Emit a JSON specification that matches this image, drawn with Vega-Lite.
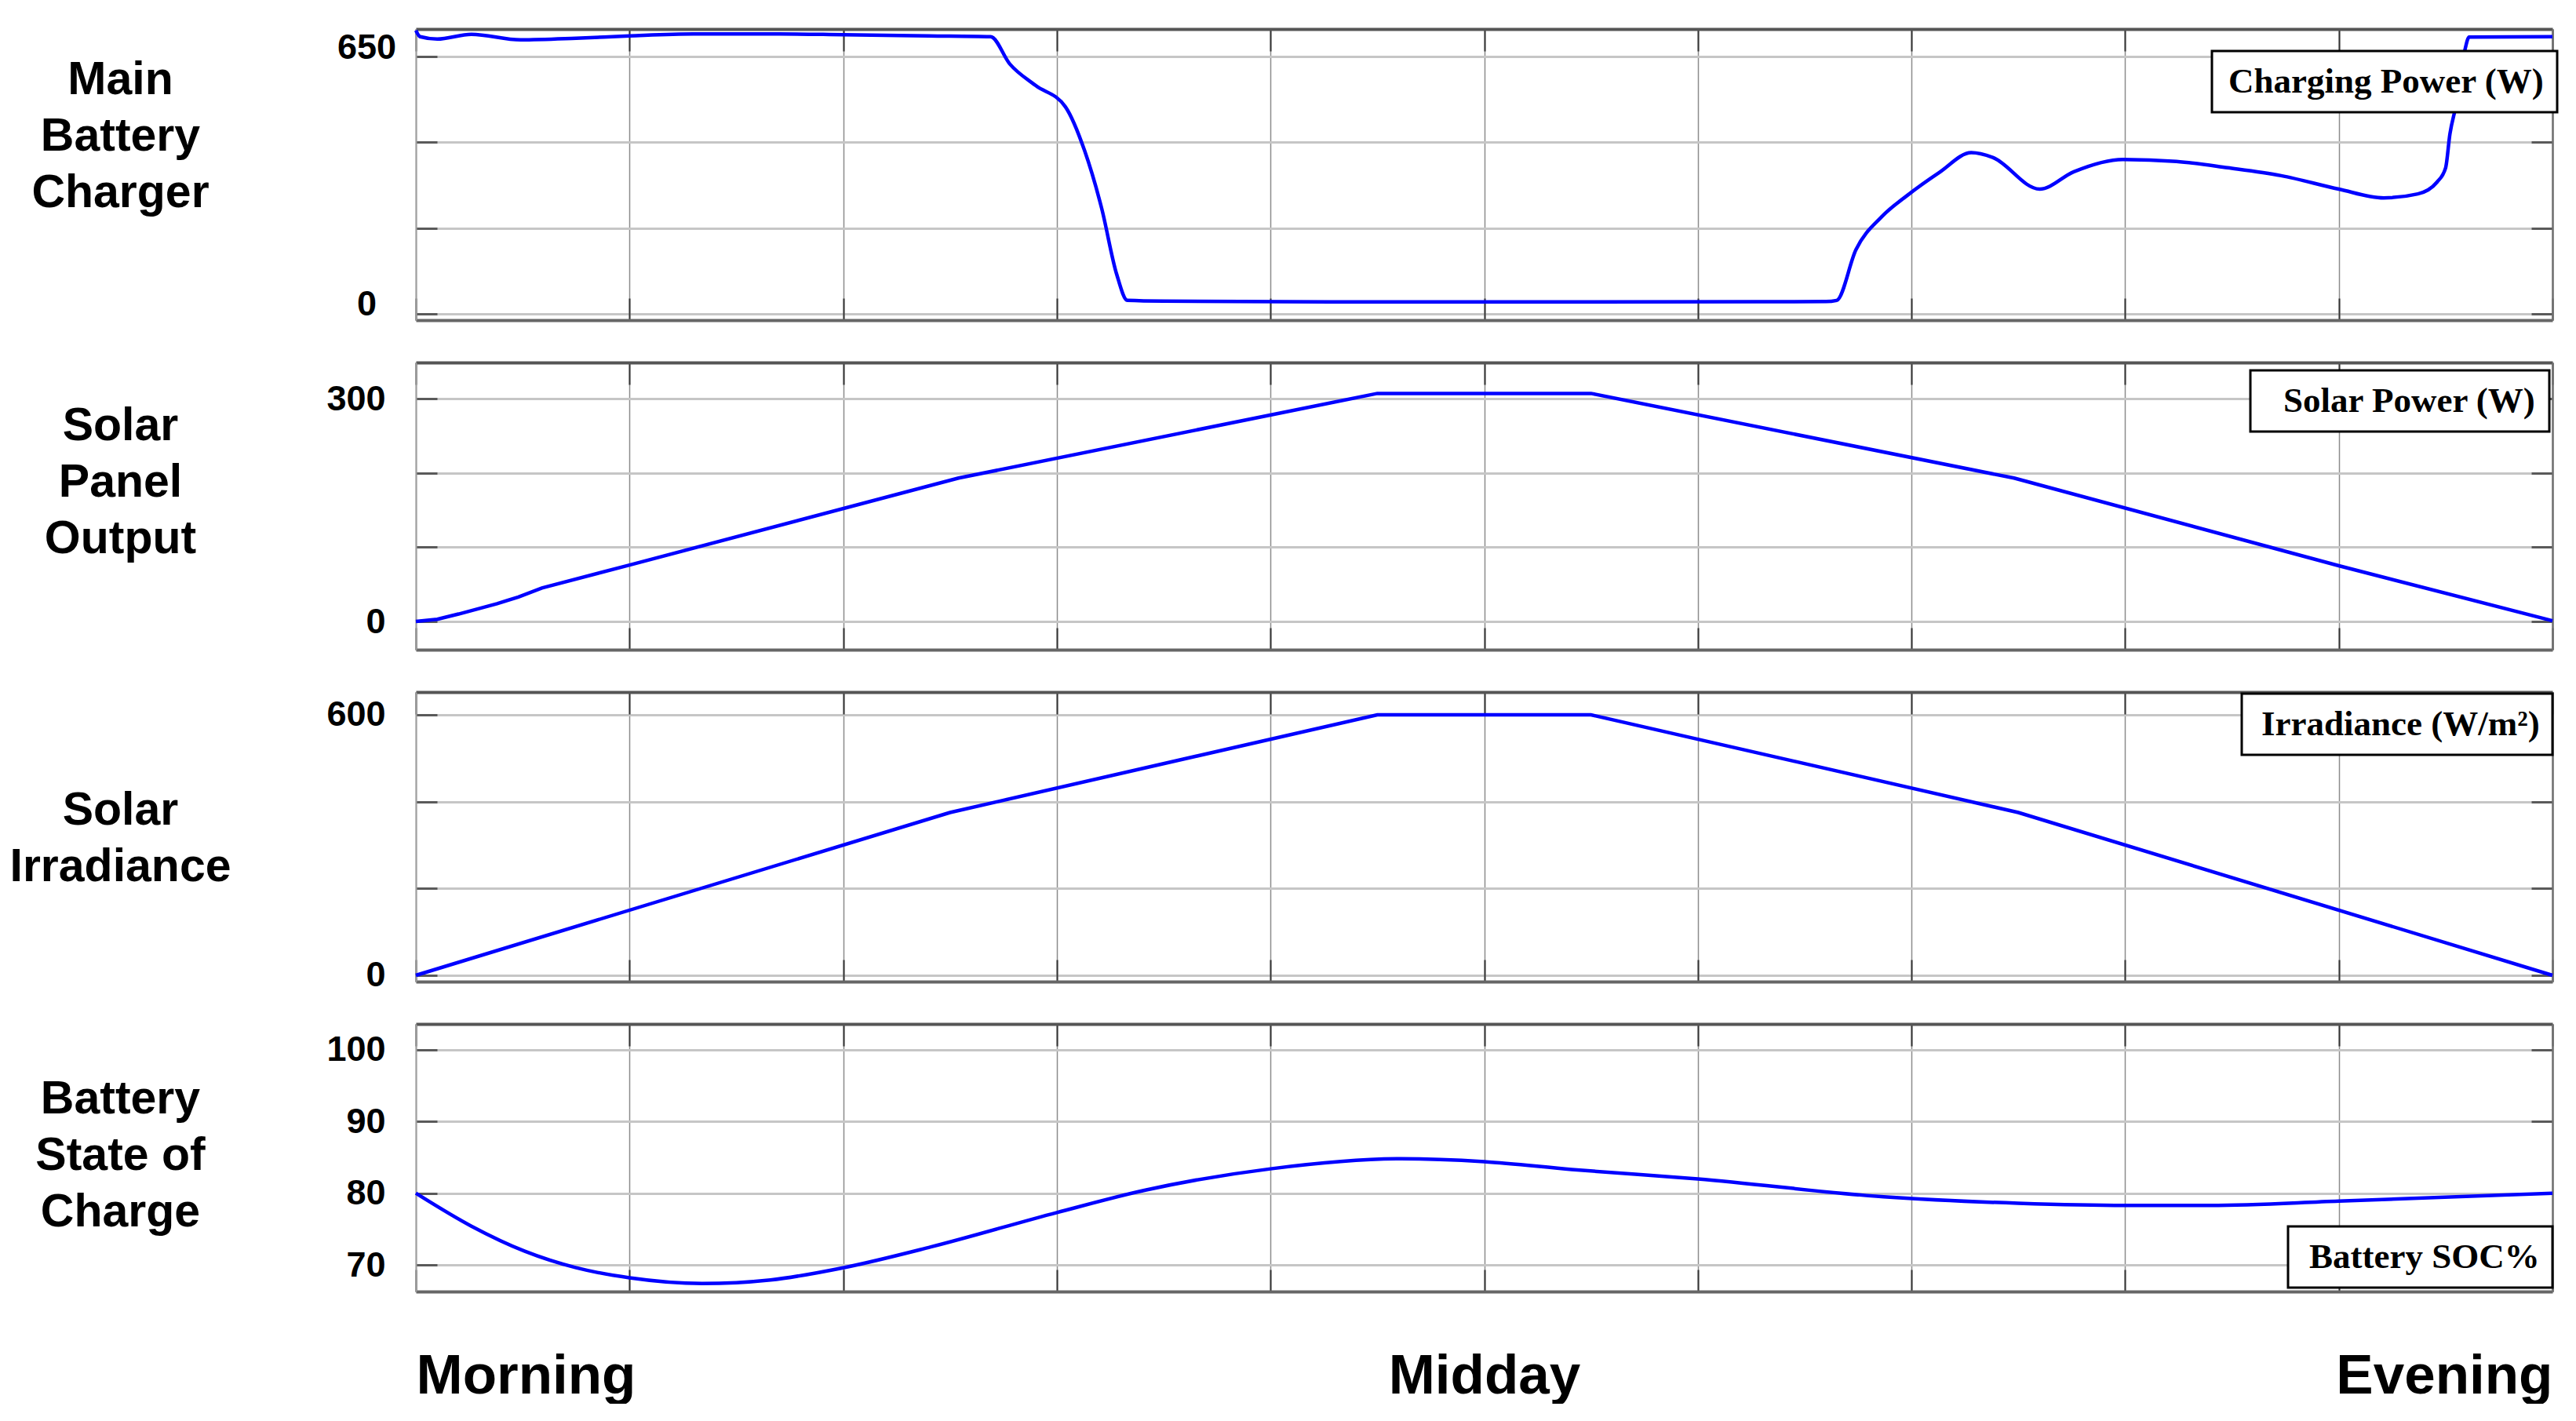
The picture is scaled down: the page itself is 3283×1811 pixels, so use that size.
{
  "$schema": "https://vega.github.io/schema/vega-lite/v6.json",
  "background": "white",
  "padding": {"left": 11, "top": 29, "right": 0, "bottom": 0},
  "autosize": {"type": "pad"},
  "config": {
    "font": "Liberation Sans",
    "view": {"stroke": null},
    "axis": {"labelFont": "Liberation Sans", "labelFontWeight": "bold", "labelColor": "black", "labelOverlap": false, "labelLimit": 0, "titleColor": "black"},
    "legend": {"strokeWidth": 3, "title": " ", "titleOrient": "right", "titleFontSize": 1, "symbolSize": 0, "symbolOpacity": 0, "symbolStrokeWidth": 0, "labelOffset": -44, "labelFont": "Liberation Serif", "labelFontWeight": "bold", "labelFontSize": 45, "labelColor": "black", "labelLimit": 0, "padding": 16, "strokeColor": "black", "fillColor": "white"}
  },
  "datasets": {
    "charger": [
      {"t": 0, "value": 716}, {"t": 0.02, "value": 700}, {"t": 0.1, "value": 694}, {"t": 0.26, "value": 706},
      {"t": 0.49, "value": 692}, {"t": 0.75, "value": 696}, {"t": 1.0, "value": 702}, {"t": 1.3, "value": 707},
      {"t": 1.7, "value": 707}, {"t": 2.0, "value": 705}, {"t": 2.4, "value": 702}, {"t": 2.69, "value": 700},
      {"t": 2.78, "value": 631}, {"t": 2.9, "value": 577}, {"t": 3.04, "value": 523}, {"t": 3.13, "value": 412},
      {"t": 3.21, "value": 266}, {"t": 3.28, "value": 100}, {"t": 3.33, "value": 34}, {"t": 3.5, "value": 32},
      {"t": 4.5, "value": 30}, {"t": 5.5, "value": 30}, {"t": 6.6, "value": 31}, {"t": 6.65, "value": 34},
      {"t": 6.74, "value": 162}, {"t": 6.86, "value": 245}, {"t": 6.98, "value": 299}, {"t": 7.13, "value": 357},
      {"t": 7.28, "value": 407}, {"t": 7.38, "value": 395}, {"t": 7.6, "value": 315}, {"t": 7.76, "value": 359},
      {"t": 7.99, "value": 390}, {"t": 8.24, "value": 385}, {"t": 8.48, "value": 369}, {"t": 8.73, "value": 349},
      {"t": 9.0, "value": 315}, {"t": 9.21, "value": 293}, {"t": 9.37, "value": 303}, {"t": 9.46, "value": 333},
      {"t": 9.5, "value": 369}, {"t": 9.52, "value": 454}, {"t": 9.55, "value": 530}, {"t": 9.59, "value": 666},
      {"t": 9.61, "value": 699}, {"t": 10, "value": 700}
    ],
    "solar": [
      {"t": 0, "value": 0}, {"t": 0.1, "value": 3}, {"t": 0.2, "value": 10}, {"t": 0.38, "value": 24},
      {"t": 0.48, "value": 33}, {"t": 0.59, "value": 45}, {"t": 1.0, "value": 76}, {"t": 2.54, "value": 193},
      {"t": 4.5, "value": 307}, {"t": 5.5, "value": 307}, {"t": 7.48, "value": 193}, {"t": 9.0, "value": 75},
      {"t": 10, "value": 1}
    ],
    "irradiance": [
      {"t": 0, "value": 0}, {"t": 2.5, "value": 375}, {"t": 4.5, "value": 600}, {"t": 5.5, "value": 600},
      {"t": 7.5, "value": 375}, {"t": 10, "value": 0}
    ],
    "soc": [
      {"t": 0, "value": 80}, {"t": 0.26, "value": 75.4}, {"t": 0.51, "value": 71.9}, {"t": 0.75, "value": 69.6},
      {"t": 1.0, "value": 68.2}, {"t": 1.34, "value": 67.4}, {"t": 1.66, "value": 67.9}, {"t": 2.0, "value": 69.6},
      {"t": 2.41, "value": 72.5}, {"t": 3.0, "value": 77.3}, {"t": 3.41, "value": 80.4}, {"t": 4.0, "value": 83.4},
      {"t": 4.61, "value": 84.8}, {"t": 5.0, "value": 84.4}, {"t": 5.41, "value": 83.3}, {"t": 6.0, "value": 82.0},
      {"t": 6.87, "value": 79.5}, {"t": 7.5, "value": 78.6}, {"t": 8.0, "value": 78.3}, {"t": 8.4, "value": 78.3},
      {"t": 9.0, "value": 78.9}, {"t": 10, "value": 80}
    ]
  },
  "spacing": 54,
  "bounds": "flush",
  "resolve": {"scale": {"color": "independent"}, "legend": {"color": "independent"}},
  "vconcat": [
    {
      "width": 2723, "height": 371,
      "data": {"name": "charger"},
      "resolve": {"axis": {"x": "independent", "y": "independent"}},
      "layer": [
        {
          "mark": {"type": "line", "strokeWidth": 4.5, "interpolate": "monotone"},
          "encoding": {
            "x": {"field": "t", "type": "quantitative", "scale": {"domain": [0, 10], "nice": false, "zero": false},
              "axis": {"orient": "bottom", "values": [0,1,2,3,4,5,6,7,8,9,10], "title": null, "labels": false, "grid": true, "gridColor": "#8c8c8c", "gridWidth": 1.5, "ticks": true, "tickSize": -28, "tickColor": "#333333", "tickWidth": 2, "domain": true, "domainColor": "#666666", "domainWidth": 4}},
            "y": {"field": "value", "type": "quantitative", "scale": {"domain": [-15.9, 719.4], "nice": false, "zero": false},
              "axis": {"orient": "left", "values": [0, 216.6667, 433.3333, 650], "labelExpr": "datum.value == 0 || datum.value == 650 ? datum.label : ''", "labelFontSize": 45, "labelAlign": "center", "labelBaseline": "middle", "labelPadding": 90, "labelOffset": -12, "grid": true, "gridColor": "#c6c6c6", "gridWidth": 3, "ticks": true, "tickSize": -27, "tickColor": "#5a5a5a", "tickWidth": 3, "domain": true, "domainColor": "#a0a0a0", "domainWidth": 2,
                "title": ["Main", "Battery", "Charger"], "titleAngle": 0, "titleAlign": "center", "titleBaseline": "middle", "titleX": -377, "titleY": 64, "titleFont": "Liberation Sans", "titleFontSize": 59, "titleFontWeight": "bold", "titleLineHeight": 72}},
            "color": {"datum": "Charging Power (W)", "type": "nominal", "scale": {"range": ["#0000ff"]},
              "legend": {"orient": "none", "legendX": 2289, "legendY": 28, "labelOffset": -40, "titlePadding": 9}}
          }
        },
        {
          "mark": {"type": "line", "opacity": 0},
          "encoding": {
            "x": {"field": "t", "type": "quantitative", "scale": {"domain": [0, 10], "nice": false, "zero": false},
              "axis": {"orient": "top", "values": [0,1,2,3,4,5,6,7,8,9,10], "title": null, "labels": false, "grid": false, "ticks": true, "tickSize": -28, "tickColor": "#333333", "tickWidth": 2, "domain": true, "domainColor": "#555555", "domainWidth": 4}},
            "y": {"field": "value", "type": "quantitative", "scale": {"domain": [-15.9, 719.4], "nice": false, "zero": false},
              "axis": {"orient": "right", "values": [0, 216.6667, 433.3333, 650], "title": null, "labels": false, "grid": false, "ticks": true, "tickSize": -27, "tickColor": "#5a5a5a", "tickWidth": 3, "domain": true, "domainColor": "#707070", "domainWidth": 2.5}}
          }
        }
      ]
    },
    {
      "width": 2723, "height": 366,
      "data": {"name": "solar"},
      "resolve": {"axis": {"x": "independent", "y": "independent"}},
      "layer": [
        {
          "mark": {"type": "line", "strokeWidth": 4.5},
          "encoding": {
            "x": {"field": "t", "type": "quantitative", "scale": {"domain": [0, 10], "nice": false, "zero": false},
              "axis": {"orient": "bottom", "values": [0,1,2,3,4,5,6,7,8,9,10], "title": null, "labels": false, "grid": true, "gridColor": "#8c8c8c", "gridWidth": 1.5, "ticks": true, "tickSize": -28, "tickColor": "#333333", "tickWidth": 2, "domain": true, "domainColor": "#666666", "domainWidth": 4}},
            "y": {"field": "value", "type": "quantitative", "scale": {"domain": [-38.0, 348.6], "nice": false, "zero": false},
              "axis": {"orient": "left", "values": [0, 100, 200, 300], "labelExpr": "datum.value == 0 || datum.value == 300 ? datum.label : ''", "labelFontSize": 45, "labelBaseline": "middle", "labelPadding": 66, "grid": true, "gridColor": "#c6c6c6", "gridWidth": 3, "ticks": true, "tickSize": -27, "tickColor": "#5a5a5a", "tickWidth": 3, "domain": true, "domainColor": "#a0a0a0", "domainWidth": 2,
                "title": ["Solar", "Panel", "Output"], "titleAngle": 0, "titleAlign": "center", "titleBaseline": "middle", "titleX": -377, "titleY": 80, "titleFont": "Liberation Sans", "titleFontSize": 59, "titleFontWeight": "bold", "titleLineHeight": 72}},
            "color": {"datum": "Solar Power (W)", "type": "nominal", "scale": {"range": ["#0000ff"]},
              "legend": {"orient": "none", "legendX": 2338, "legendY": 10, "labelOffset": -19, "titlePadding": 51}}
          }
        },
        {
          "mark": {"type": "line", "opacity": 0},
          "encoding": {
            "x": {"field": "t", "type": "quantitative", "scale": {"domain": [0, 10], "nice": false, "zero": false},
              "axis": {"orient": "top", "values": [0,1,2,3,4,5,6,7,8,9,10], "title": null, "labels": false, "grid": false, "ticks": true, "tickSize": -28, "tickColor": "#333333", "tickWidth": 2, "domain": true, "domainColor": "#555555", "domainWidth": 4}},
            "y": {"field": "value", "type": "quantitative", "scale": {"domain": [-38.0, 348.6], "nice": false, "zero": false},
              "axis": {"orient": "right", "values": [0, 100, 200, 300], "title": null, "labels": false, "grid": false, "ticks": true, "tickSize": -27, "tickColor": "#5a5a5a", "tickWidth": 3, "domain": true, "domainColor": "#707070", "domainWidth": 2.5}}
          }
        }
      ]
    },
    {
      "width": 2723, "height": 369,
      "data": {"name": "irradiance"},
      "resolve": {"axis": {"x": "independent", "y": "independent"}},
      "layer": [
        {
          "mark": {"type": "line", "strokeWidth": 4.5},
          "encoding": {
            "x": {"field": "t", "type": "quantitative", "scale": {"domain": [0, 10], "nice": false, "zero": false},
              "axis": {"orient": "bottom", "values": [0,1,2,3,4,5,6,7,8,9,10], "title": null, "labels": false, "grid": true, "gridColor": "#8c8c8c", "gridWidth": 1.5, "ticks": true, "tickSize": -28, "tickColor": "#333333", "tickWidth": 2, "domain": true, "domainColor": "#666666", "domainWidth": 4}},
            "y": {"field": "value", "type": "quantitative", "scale": {"domain": [-14.5, 652.4], "nice": false, "zero": false},
              "axis": {"orient": "left", "values": [0, 200, 400, 600], "labelExpr": "datum.value == 0 || datum.value == 600 ? datum.label : ''", "labelFontSize": 45, "labelBaseline": "middle", "labelPadding": 66, "grid": true, "gridColor": "#c6c6c6", "gridWidth": 3, "ticks": true, "tickSize": -27, "tickColor": "#5a5a5a", "tickWidth": 3, "domain": true, "domainColor": "#a0a0a0", "domainWidth": 2,
                "title": ["Solar", "Irradiance"], "titleAngle": 0, "titleAlign": "center", "titleBaseline": "middle", "titleX": -377, "titleY": 150, "titleFont": "Liberation Sans", "titleFontSize": 59, "titleFontWeight": "bold", "titleLineHeight": 72}},
            "color": {"datum": "Irradiance (W/m²)", "type": "nominal", "scale": {"range": ["#0000ff"]},
              "legend": {"orient": "none", "legendX": 2327, "legendY": 2, "labelOffset": -36, "titlePadding": 25}}
          }
        },
        {
          "mark": {"type": "line", "opacity": 0},
          "encoding": {
            "x": {"field": "t", "type": "quantitative", "scale": {"domain": [0, 10], "nice": false, "zero": false},
              "axis": {"orient": "top", "values": [0,1,2,3,4,5,6,7,8,9,10], "title": null, "labels": false, "grid": false, "ticks": true, "tickSize": -28, "tickColor": "#333333", "tickWidth": 2, "domain": true, "domainColor": "#555555", "domainWidth": 4}},
            "y": {"field": "value", "type": "quantitative", "scale": {"domain": [-14.5, 652.4], "nice": false, "zero": false},
              "axis": {"orient": "right", "values": [0, 200, 400, 600], "title": null, "labels": false, "grid": false, "ticks": true, "tickSize": -27, "tickColor": "#5a5a5a", "tickWidth": 3, "domain": true, "domainColor": "#707070", "domainWidth": 2.5}}
          }
        }
      ]
    },
    {
      "width": 2723, "height": 341,
      "data": {"name": "soc"},
      "resolve": {"axis": {"x": "independent", "y": "independent"}},
      "layer": [
        {
          "mark": {"type": "line", "strokeWidth": 4.5, "interpolate": "monotone"},
          "encoding": {
            "x": {"field": "t", "type": "quantitative", "scale": {"domain": [0, 10], "nice": false, "zero": false},
              "axis": {"orient": "bottom", "values": [0,1,2,3,4,5,6,7,8,9,10], "title": null, "labels": true, "labelExpr": "datum.value == 0 ? 'Morning' : datum.value == 5 ? 'Midday' : datum.value == 10 ? 'Evening' : ''", "labelFontSize": 71, "labelBaseline": "alphabetic", "labelPadding": 157, "labelFlush": true, "grid": true, "gridColor": "#8c8c8c", "gridWidth": 1.5, "ticks": true, "tickSize": -28, "tickColor": "#333333", "tickWidth": 2, "domain": true, "domainColor": "#666666", "domainWidth": 4}},
            "y": {"field": "value", "type": "quantitative", "scale": {"domain": [66.28, 103.61], "nice": false, "zero": false},
              "axis": {"orient": "left", "values": [70, 80, 90, 100], "labelFontSize": 45, "labelBaseline": "middle", "labelPadding": 66, "grid": true, "gridColor": "#c6c6c6", "gridWidth": 3, "ticks": true, "tickSize": -27, "tickColor": "#5a5a5a", "tickWidth": 3, "domain": true, "domainColor": "#a0a0a0", "domainWidth": 2,
                "title": ["Battery", "State of", "Charge"], "titleAngle": 0, "titleAlign": "center", "titleBaseline": "middle", "titleX": -377, "titleY": 95, "titleFont": "Liberation Sans", "titleFontSize": 59, "titleFontWeight": "bold", "titleLineHeight": 72}},
            "color": {"datum": "Battery SOC%", "type": "nominal", "scale": {"range": ["#0000ff"]},
              "legend": {"orient": "none", "legendX": 2386, "legendY": 258, "labelOffset": -34, "titlePadding": 37}}
          }
        },
        {
          "mark": {"type": "line", "opacity": 0},
          "encoding": {
            "x": {"field": "t", "type": "quantitative", "scale": {"domain": [0, 10], "nice": false, "zero": false},
              "axis": {"orient": "top", "values": [0,1,2,3,4,5,6,7,8,9,10], "title": null, "labels": false, "grid": false, "ticks": true, "tickSize": -28, "tickColor": "#333333", "tickWidth": 2, "domain": true, "domainColor": "#555555", "domainWidth": 4}},
            "y": {"field": "value", "type": "quantitative", "scale": {"domain": [66.28, 103.61], "nice": false, "zero": false},
              "axis": {"orient": "right", "values": [70, 80, 90, 100], "title": null, "labels": false, "grid": false, "ticks": true, "tickSize": -27, "tickColor": "#5a5a5a", "tickWidth": 3, "domain": true, "domainColor": "#707070", "domainWidth": 2.5}}
          }
        }
      ]
    }
  ]
}
